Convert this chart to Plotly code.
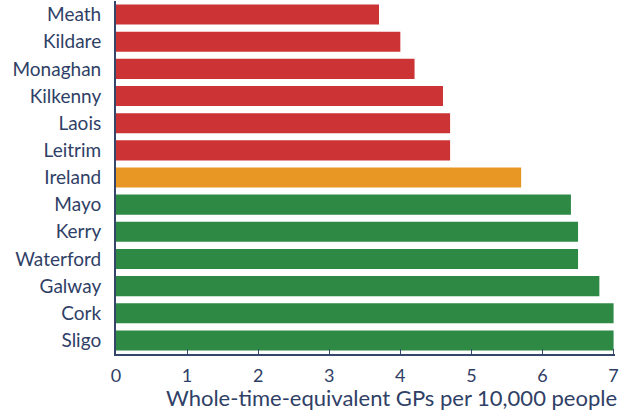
import plotly.graph_objects as go

counties = ["Meath", "Kildare", "Monaghan", "Kilkenny", "Laois", "Leitrim", "Ireland",
            "Mayo", "Kerry", "Waterford", "Galway", "Cork", "Sligo"]
values = [3.7, 4.0, 4.2, 4.6, 4.7, 4.7, 5.7, 6.4, 6.5, 6.5, 6.8, 7.0, 7.0]
groups = ["low"] * 6 + ["national"] + ["high"] * 6
x_ticks = [0, 1, 2, 3, 4, 5, 6, 7]
x_title = "Whole-time-equivalent GPs per 10,000 people"

palette = {"low": "#CC3335", "national": "#E89624", "high": "#2E8944"}
text_color = "#2F4066"
axis_color = "#34466A"
font_family = "Lato, 'Open Sans', sans-serif"

fig = go.Figure(go.Bar(
    x=values, y=counties, orientation="h",
    marker=dict(color=[palette[g] for g in groups], line=dict(width=0)),
    width=0.74,
))

fig.update_layout(
    width=629, height=412,
    margin=dict(l=116, r=14, t=1, b=58),
    paper_bgcolor="white", plot_bgcolor="white",
    showlegend=False,
    font=dict(family=font_family, color=text_color),
    xaxis=dict(
        range=[0, 7.02], tickvals=x_ticks, ticks="inside", ticklen=5, tickcolor=axis_color,
        showline=True, linecolor=axis_color, linewidth=2, showgrid=False, zeroline=False,
        tickfont=dict(size=18, color=text_color), ticklabelstandoff=4, automargin=False,
    ),
    yaxis=dict(
        categoryorder="array", categoryarray=counties, autorange="reversed",
        showline=True, linecolor=axis_color, linewidth=2, showgrid=False, zeroline=False,
        ticks="", tickfont=dict(size=19, color=text_color), ticklabelstandoff=9,
        range=[12.5, -0.5], automargin=False,
    ),
    annotations=[dict(
        text=x_title, xref="paper", yref="paper", x=1.008, y=0, xanchor="right", yanchor="top",
        yshift=-28, showarrow=False, font=dict(size=22, color=text_color, family=font_family),
    )],
)

fig.write_html("out.html", config={"displayModeBar": False},
               post_script="document.body.style.margin='0px';")
